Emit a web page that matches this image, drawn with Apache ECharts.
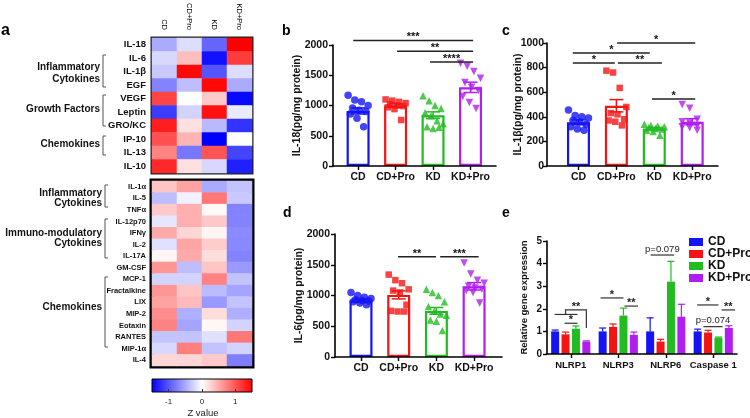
<!DOCTYPE html>
<html><head><meta charset="utf-8">
<script src="https://cdn.jsdelivr.net/npm/echarts@6/dist/echarts.min.js"></script>
<style>html,body{margin:0;padding:0;background:#fff}#c{width:750px;height:418px}</style>
</head><body><div id="c"></div>
<script>
// ---------------- DATA ----------------
const groups = ['CD','CD+Pro','KD','KD+Pro'];

const heatRowsTop = ['IL-18','IL-6','IL-1β','EGF','VEGF','Leptin','GRO/KC','IP-10','IL-13','IL-10'];
const heatTop = [
  [-0.5,-0.2,-0.9,1.5],
  [-0.23,0.38,-1.4,1.15],
  [-0.32,1.45,-1.0,-0.2],
  [-0.73,-0.38,1.45,-0.5],
  [1.1,0.0,0.32,-1.45],
  [-1.15,-0.26,1.4,-0.12],
  [1.33,0.18,-0.41,-1.2],
  [1.03,0.44,-1.5,0.0],
  [0.73,-0.8,1.0,-1.1],
  [1.26,0.18,-0.23,-1.32]
];
const heatRowsBottom = ['IL-1α','IL-5','TNFα','IL-12p70','IFNγ','IL-2','IL-17A','GM-CSF','MCP-1','Fractalkine','LIX','MIP-2','Eotaxin','RANTES','MIP-1α','IL-4'];
const heatBottom = [
  [0.35,0.55,-0.5,-0.35],
  [-0.38,-0.08,0.8,-0.32],
  [0.32,0.47,0.04,-0.73],
  [-0.15,0.47,0.32,-0.73],
  [0.5,0.24,0.06,-0.68],
  [-0.18,0.53,0.3,-0.7],
  [0.05,0.5,0.2,-0.73],
  [0.62,-0.38,0.35,-0.6],
  [-0.26,-0.26,0.73,-0.35],
  [0.62,0.35,-0.4,-0.53],
  [0.55,0.4,-0.6,-0.35],
  [0.67,-0.47,0.2,-0.47],
  [0.73,-0.53,0.05,-0.26],
  [-0.35,-0.35,-0.18,0.8],
  [-0.23,0.76,-0.35,-0.26],
  [0.24,0.24,0.32,-0.76]
];
const zTicks = [-1, 0, 1];

// panel b : IL-18
const il18Points = [
  [1170,1090,1060,1000,960,920,900,860,790,650],
  [1100,1080,1060,1040,1020,1000,990,970,940,760],
  [1160,1080,1000,950,880,830,750,700,650,620,640],
  [1700,1650,1560,1450,1380,1300,1250,1150,1050,950]
];
const il18Mean = [910,1000,840,1300];
const il18Sem = [50,30,55,85];
const il18Sig = [[0.87,4.07,2075],[2.04,4.07,1896],[2.92,4.07,1719]];
const il18SigLabel = ['***','**','****'];

// panel c : IL-1β
const il1bPoints = [
  [455,410,400,390,370,360,340,320,300,290],
  [775,760,635,480,430,420,380,370,360,330],
  [340,330,325,320,310,305,300,290,280,250],
  [500,470,380,360,350,330,320,310,290]
];
const il1bMean = [355,490,305,360];
const il1bSem = [20,50,8,25];
const il1bSig = [[2.02,4.08,1000],[0.85,2.88,919],[0.85,1.96,837],[2.04,3.2,837],[2.94,4.08,545]];
const il1bSigLabel = ['*','*','*','**','*'];

// panel d : IL-6
const il6Points = [
  [1050,1000,970,950,930,920,910,900,880,850],
  [1340,1250,1200,1100,1080,1050,850,750,740,740],
  [1100,1050,1000,900,820,750,700,680,600,580,430],
  [1530,1350,1250,1200,1150,1120,1100,1080,1050,880]
];
const il6Mean = [920,1010,750,1150];
const il6Sem = [20,65,55,60];
const il6Sig = [[1.98,2.99,1630],[3.1,4.12,1630]];
const il6SigLabel = ['**','***'];

// panel e : gene expression
const genes = ['NLRP1','NLRP3','NLRP6','Caspase 1'];
const geneMean = [
  [1.0,1.0,1.0,1.0],
  [0.87,1.2,0.55,0.95],
  [1.12,1.7,3.2,0.72],
  [0.55,0.85,1.65,1.15]
];
const geneErr = [
  [0.06,0.15,0.6,0.1],
  [0.1,0.13,0.1,0.1],
  [0.12,0.33,0.9,0.03],
  [0.03,0.12,0.55,0.1]
];
const sigEGene = [0,0,0,1,1,2,3,3,3];
const sigEPath = [
  [[-0.05,1.75],[2.15,1.75]],
  [[1,1.75],[1,1.95],[3,1.95],[3,1.15]],
  [[0.9,1.36],[2.15,1.36]],
  [[-0.2,2.48],[2.0,2.48]],
  [[2.1,2.12],[3.4,2.12]],
  [[0.05,4.38],[2.3,4.38]],
  [[-0.05,2.17],[2.0,2.17]],
  [[2.3,1.95],[3.6,1.95]],
  [[0.55,1.21],[2.4,1.21]]
];
const sigELabel = ['','**','*','*','**','p=0.079','*','**','p=0.074'];

// ---------------- STYLE ----------------
const FONT = 'Arial, "Liberation Sans", sans-serif';
const colors = ['#1414f5','#f51414','#22bb22','#b01ef0'];
const symbols = ['circle','rect','triangle','triangle'];
const symRot = [0,0,0,180];
const BAR_E = 8, GAP_E = 0.3, STEP_E = BAR_E*(1+GAP_E);

const grids = [], xAxes = [], yAxes = [], series = [];

// ---------------- HEATMAP ----------------
function toCells(m){ const out=[]; m.forEach((row,r)=>row.forEach((v,c)=>out.push([c,r,v]))); return out; }
grids.push({left:152, top:38, width:100, height:135, show:true, borderColor:'#222', borderWidth:3});
grids.push({left:152, top:181, width:100, height:185, show:true, borderColor:'#000', borderWidth:5});
xAxes.push({type:'category', gridIndex:0, data:groups, position:'top', axisLine:{show:false}, axisTick:{show:false},
  axisLabel:{rotate:90, interval:0, fontSize:7.5, margin:8, color:'#000', fontFamily:FONT}});
xAxes.push({type:'category', gridIndex:1, data:groups, show:false});
yAxes.push({type:'category', gridIndex:0, data:heatRowsTop, inverse:true, axisLine:{show:false}, axisTick:{show:false},
  axisLabel:{interval:0, fontSize:9.5, fontWeight:'bold', margin:6, color:'#111', fontFamily:FONT}});
yAxes.push({type:'category', gridIndex:1, data:heatRowsBottom, inverse:true, axisLine:{show:false}, axisTick:{show:false},
  axisLabel:{interval:0, fontSize:7.5, fontWeight:'bold', margin:6, color:'#111', fontFamily:FONT}});
series.push({type:'heatmap', xAxisIndex:0, yAxisIndex:0, data:toCells(heatTop), emphasis:{disabled:true}});
series.push({type:'heatmap', xAxisIndex:1, yAxisIndex:1, data:toCells(heatBottom), emphasis:{disabled:true}});

// colour bar axis
grids.push({left:152, top:379, width:100, height:13});
xAxes.push({type:'value', gridIndex:2, min:-1.5, max:1.5, z:10, axisLine:{show:false}, splitLine:{show:false},
  axisTick:{show:true, inside:true, length:3, customValues:zTicks, lineStyle:{color:'#333'}},
  axisLabel:{customValues:zTicks, fontSize:8, margin:6, color:'#222', fontFamily:FONT}});
yAxes.push({type:'value', gridIndex:2, show:false, min:0, max:1});

// ---------------- DOT/BAR PANELS ----------------
function jitter(k,n){ return (((k*3)%n)/(n-1) - 0.5) * 20; }
function dotPanel(cfg){
  const gi = grids.length, xi = xAxes.length, yi = yAxes.length;
  grids.push({left:cfg.left, top:cfg.top, width:cfg.width, height:cfg.height});
  xAxes.push({type:'value', gridIndex:gi, min:cfg.xmin, max:cfg.xmax, z:5,
    axisLine:{show:true, lineStyle:{color:'#000', width:1.6}},
    axisTick:{show:true, customValues:[1,2,3,4], length:4, lineStyle:{color:'#000', width:1.4}},
    axisLabel:{customValues:[1,2,3,4], formatter:v=>groups[Math.round(v)-1], fontSize:10.5, fontWeight:'bold', color:'#111', margin:6, fontFamily:FONT},
    splitLine:{show:false}});
  yAxes.push({type:'value', gridIndex:gi, min:0, max:cfg.ymax, interval:cfg.yint, z:5,
    name:cfg.yname, nameLocation:'middle', nameGap:cfg.nameGap, nameMoveOverlap:false,
    nameTextStyle:{fontSize:10.5, fontWeight:'bold', color:'#111', fontFamily:FONT},
    axisLine:{show:true, lineStyle:{color:'#000', width:1.6}},
    axisTick:{show:true, length:4, lineStyle:{color:'#000', width:1.4}},
    axisLabel:{formatter:v=>String(v), fontSize:10.5, fontWeight:'bold', color:'#111', margin:cfg.labelMargin, fontFamily:FONT},
    splitLine:{show:false}});
  series.push({type:'bar', xAxisIndex:xi, yAxisIndex:yi, barWidth:23, z:2,
    data:cfg.mean.map((m,i)=>({value:[i+1,m], itemStyle:{color:'#fff', borderColor:colors[i], borderWidth:2.2}}))});
  cfg.points.forEach((pts,g)=>{
    series.push({type:'scatter', xAxisIndex:xi, yAxisIndex:yi, symbol:symbols[g], symbolRotate:symRot[g],
      symbolSize: g===1?6.5:7.5, itemStyle:{color:colors[g]}, z:3,
      data:pts.map((v,k)=>({value:[g+1,v], symbolOffset:[jitter(k,pts.length),0]}))});
  });
  series.push({type:'custom', xAxisIndex:xi, yAxisIndex:yi, z:4,
    data:cfg.mean.map((m,i)=>[i+1,m,cfg.sem[i]]),
    renderItem:(params,api)=>{
      const x=api.value(0), m=api.value(1), s=api.value(2);
      const t=api.coord([x,m+s]), b=api.coord([x,m-s]);
      const c=colors[params.dataIndex], hw=7;
      const st={stroke:c, lineWidth:1.5};
      return {type:'group', children:[
        {type:'line', shape:{x1:t[0],y1:t[1],x2:b[0],y2:b[1]}, style:st},
        {type:'line', shape:{x1:t[0]-hw,y1:t[1],x2:t[0]+hw,y2:t[1]}, style:st},
        {type:'line', shape:{x1:b[0]-hw,y1:b[1],x2:b[0]+hw,y2:b[1]}, style:st}]};
    }});
  series.push({type:'custom', xAxisIndex:xi, yAxisIndex:yi, z:6, clip:false,
    data:cfg.sig,
    renderItem:(params,api)=>{
      const p1=api.coord([api.value(0), api.value(2)]);
      const p2=api.coord([api.value(1), api.value(2)]);
      return {type:'group', children:[
        {type:'line', shape:{x1:p1[0],y1:p1[1],x2:p2[0],y2:p1[1]}, style:{stroke:'#222', lineWidth:1.5}},
        {type:'text', x:(p1[0]+p2[0])/2, y:p1[1]-3, style:{text:cfg.sigLabel[params.dataIndex], fontSize:11, fontWeight:'bold',
          fontFamily:FONT, fill:'#111', align:'center', verticalAlign:'middle'}}]};
    }});
}
dotPanel({left:333, top:45, width:163, height:121, xmin:0.33, xmax:4.68, ymax:2000, yint:500, nameGap:30, labelMargin:5,
  yname:'IL-18(pg/mg protein)', points:il18Points, mean:il18Mean, sem:il18Sem, sig:il18Sig, sigLabel:il18SigLabel});
dotPanel({left:547, top:43, width:171, height:123, xmin:0.17, xmax:4.68, ymax:1000, yint:200, nameGap:23, labelMargin:3,
  yname:'IL-1β(pg/mg protein)', points:il1bPoints, mean:il1bMean, sem:il1bSem, sig:il1bSig, sigLabel:il1bSigLabel});
dotPanel({left:335, top:234, width:167, height:123, xmin:0.31, xmax:4.74, ymax:2000, yint:500, nameGap:30, labelMargin:5,
  yname:'IL-6(pg/mg protein)', points:il6Points, mean:il6Mean, sem:il6Sem, sig:il6Sig, sigLabel:il6SigLabel});

// ---------------- PANEL E ----------------
{
  const gi = grids.length, xi = xAxes.length, yi = yAxes.length;
  grids.push({left:547, top:241, width:190, height:113});
  xAxes.push({type:'category', gridIndex:gi, data:genes, z:5,
    axisLine:{show:true, lineStyle:{color:'#000', width:1.6}},
    axisTick:{show:true, alignWithLabel:true, length:4, lineStyle:{color:'#000', width:1.4}},
    axisLabel:{interval:0, fontSize:9.5, fontWeight:'bold', color:'#111', margin:6, fontFamily:FONT}});
  yAxes.push({type:'value', gridIndex:gi, min:0, max:5, interval:1, z:5,
    name:'Relative gene expression', nameLocation:'middle', nameGap:18, nameMoveOverlap:false,
    nameTextStyle:{fontSize:9.5, fontWeight:'bold', color:'#111', fontFamily:FONT},
    axisLine:{show:true, lineStyle:{color:'#000', width:1.6}},
    axisTick:{show:true, length:4, lineStyle:{color:'#000', width:1.4}},
    axisLabel:{fontSize:10, fontWeight:'bold', color:'#111', margin:5, fontFamily:FONT},
    splitLine:{show:false}});
  groups.forEach((g,i)=>series.push({type:'bar', name:g, xAxisIndex:xi, yAxisIndex:yi, barWidth:BAR_E, barGap:(GAP_E*100)+'%',
    data:geneMean[i], itemStyle:{color:colors[i]}, z:2}));
  const errData=[];
  geneMean.forEach((row,s)=>row.forEach((m,g)=>errData.push([g,m,geneErr[s][g],s])));
  series.push({type:'custom', xAxisIndex:xi, yAxisIndex:yi, z:4, data:errData,
    renderItem:(params,api)=>{
      const g=api.value(0), m=api.value(1), e=api.value(2), s=api.value(3);
      const dx=(s-1.5)*STEP_E;
      const t=api.coord([g,m+e]), b=api.coord([g,m]);
      const st={stroke:colors[s], lineWidth:1.2};
      return {type:'group', children:[
        {type:'line', shape:{x1:t[0]+dx,y1:t[1],x2:b[0]+dx,y2:b[1]}, style:st},
        {type:'line', shape:{x1:t[0]+dx-3.5,y1:t[1],x2:t[0]+dx+3.5,y2:t[1]}, style:st}]};
    }});
  series.push({type:'custom', xAxisIndex:xi, yAxisIndex:yi, z:6, clip:false,
    data:sigEGene.map((g,i)=>[g,i]),
    renderItem:(params,api)=>{
      const g=api.value(0), i=params.dataIndex;
      const pts=sigEPath[i].map(([b,y])=>{const c=api.coord([g,y]); return [c[0]+(b-1.5)*STEP_E, c[1]];});
      const topY=Math.min(...pts.map(p=>p[1]));
      const topX=pts.filter(p=>Math.abs(p[1]-topY)<0.5).map(p=>p[0]);
      const cx=(Math.min(...topX)+Math.max(...topX))/2;
      const lbl=sigELabel[i];
      const isP=lbl.startsWith('p');
      const children=[{type:'polyline', shape:{points:pts}, style:{stroke:'#333', lineWidth:1.2, fill:null}}];
      if(lbl) children.push({type:'text', x:cx, y:isP?topY-1:topY-3, style:{text:lbl, fontSize:isP?9.5:11,
        fontWeight:isP?'normal':'bold', fontFamily:FONT, fill:'#222', align:'center', verticalAlign:isP?'bottom':'middle'}});
      return {type:'group', children};
    }});
}

// ---------------- ANNOTATIONS ----------------
const graphics = [];
[['a',1,31,16],['b',282,31,14],['c',502,31,14],['d',283,213,14],['e',502,213,14]].forEach(([t,x,y,fs])=>{
  graphics.push({type:'text', x, y, style:{text:t, fontSize:fs, fontWeight:'bold', fontFamily:FONT, fill:'#000', verticalAlign:'middle'}});
});
const groupLabels = [
  ['Inflammatory\nCytokines',100,73,12],
  ['Growth Factors',100,109,12],
  ['Chemokines',100,144,12],
  ['Inflammatory\nCytokines',102,198,10.5],
  ['Immuno-modulatory\nCytokines',102,238,10.5],
  ['Chemokines',102,307,12]
];
groupLabels.forEach(([t,x,y,lh])=>graphics.push({type:'text', x, y, style:{text:t, fontSize:10, fontWeight:'bold',
  fontFamily:FONT, fill:'#111', align:'right', verticalAlign:'middle', lineHeight:lh}}));
[[103,55,87],[103,95,126],[103,136,155],[105,185,207],[105,219,258],[105,277,347]].forEach(([x,y1,y2])=>{
  graphics.push({type:'polyline', shape:{points:[[x+3,y1],[x,y1],[x,y2],[x+3,y2]]}, style:{stroke:'#555', lineWidth:1, fill:null}});
});
graphics.push({type:'rect', z:-1, shape:{x:152,y:379,width:100,height:13},
  style:{fill:new echarts.graphic.LinearGradient(0,0,1,0,[{offset:0,color:'#0000ff'},{offset:0.5,color:'#ffffff'},{offset:1,color:'#ff0000'}]),
  stroke:'#000', lineWidth:1}});
graphics.push({type:'text', x:203, y:413, style:{text:'Z value', fontSize:9.5, fontFamily:FONT, fill:'#222', align:'center', verticalAlign:'middle'}});

const chart = echarts.init(document.getElementById('c'));
chart.setOption({
  animation:false,
  backgroundColor:'#fff',
  grid:grids, xAxis:xAxes, yAxis:yAxes, series,
  visualMap:{type:'continuous', min:-1.5, max:1.5, seriesIndex:[0,1], dimension:2, show:false,
    inRange:{color:['#0000ff','#ffffff','#ff0000']}},
  legend:{data:groups, left:689, top:236, orient:'vertical', itemWidth:14, itemHeight:8, itemGap:0, icon:'rect', padding:0,
    textStyle:{fontSize:12, fontWeight:'bold', color:'#111', fontFamily:FONT, lineHeight:11}},
  graphic:graphics
});
</script></body></html>
